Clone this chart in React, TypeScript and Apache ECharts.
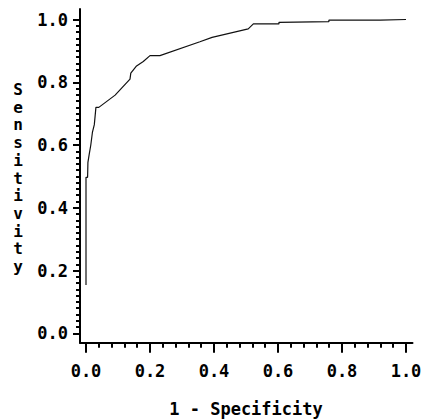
import React, { useEffect, useRef } from "react";
import * as echarts from "echarts";

// ROC curve points: [1 - specificity, sensitivity]
const fpr = [0, 0, 0.005, 0.006, 0.01, 0.015, 0.02, 0.026, 0.031, 0.04, 0.091, 0.1375, 0.14, 0.158, 0.179, 0.2, 0.231, 0.356, 0.394, 0.507, 0.523, 0.603, 0.603, 0.759, 0.759, 0.919, 0.919, 1.0];
const tpr = [0.154, 0.497, 0.497, 0.545, 0.57, 0.6, 0.64, 0.665, 0.72, 0.72, 0.759, 0.81, 0.829, 0.852, 0.866, 0.885, 0.885, 0.929, 0.943, 0.97, 0.986, 0.986, 0.991, 0.993, 0.998, 0.998, 1.0, 1.0];

const xMajorTicks = [0, 0.2, 0.4, 0.6, 0.8, 1.0];
const xMinorTicks = [0.04, 0.08, 0.12, 0.16, 0.24, 0.28, 0.32, 0.36, 0.44, 0.48, 0.52, 0.56, 0.64, 0.68, 0.72, 0.76, 0.84, 0.88, 0.92, 0.96];
const yMajorTicks = [0, 0.2, 0.4, 0.6, 0.8, 1.0];
const yMinorTicks = [
  0.02, 0.04, 0.06, 0.08, 0.1, 0.12, 0.14, 0.16, 0.18,
  0.22, 0.24, 0.26, 0.28, 0.3, 0.32, 0.34, 0.36, 0.38,
  0.42, 0.44, 0.46, 0.48, 0.5, 0.52, 0.54, 0.56, 0.58,
  0.62, 0.64, 0.66, 0.68, 0.7, 0.72, 0.74, 0.76, 0.78,
  0.82, 0.84, 0.86, 0.88, 0.9, 0.92, 0.94, 0.96, 0.98,
];

const xTitle = "1 - Specificity";
const yTitle = "Sensitivity";

const X_MIN = -0.01875;
const X_MAX = 1.0203;
const Y_MIN = -0.03;
const Y_MAX = 1.0335;

const FONT = "'DejaVu Sans Mono', monospace";

export default function App() {
  const ref = useRef<HTMLDivElement>(null);
  useEffect(() => {
    if (!ref.current) return;
    const chart = echarts.init(ref.current, undefined, { renderer: "svg" });
    const labelStyle = {
      fontFamily: FONT,
      fontWeight: "bold" as const,
      fontSize: 17,
      color: "#000",
    };
    const baseX = {
      type: "value" as const,
      min: X_MIN,
      max: X_MAX,
      position: "bottom" as const,
      splitLine: { show: false },
    };
    const baseY = {
      type: "value" as const,
      min: Y_MIN,
      max: Y_MAX,
      position: "left" as const,
      splitLine: { show: false },
    };
    const letters = yTitle.split("");
    const step = 17.7;
    const firstCenter = 178 - ((letters.length - 1) * step) / 2;
    const yTitleTexts = letters.map((ch, i) => ({
      type: "text",
      x: 18,
      y: firstCenter + i * step,
      style: {
        text: ch,
        fontFamily: FONT,
        fontWeight: "bold",
        fontSize: 16,
        fill: "#000",
        textAlign: "center",
        textVerticalAlign: "middle",
      },
    }));
    chart.setOption({
      animation: false,
      backgroundColor: "#fff",
      grid: {
        left: 80,
        top: 9,
        right: 10.5,
        bottom: 77.3,
        containLabel: false,
        outerBoundsMode: "none",
      },
      xAxis: [
        {
          ...baseX,
          axisLine: { show: true, onZero: false, lineStyle: { color: "#000", width: 2 } },
          axisTick: { show: true, customValues: xMajorTicks, length: 10, lineStyle: { color: "#000", width: 2 } },
          axisLabel: {
            show: true,
            customValues: xMajorTicks,
            formatter: (v: number) => v.toFixed(1),
            margin: 20,
            ...labelStyle,
          },
        },
        {
          ...baseX,
          axisLine: { show: false, onZero: false },
          axisTick: { show: true, customValues: xMinorTicks, length: 5, lineStyle: { color: "#000", width: 2 } },
          axisLabel: { show: false },
        },
      ],
      yAxis: [
        {
          ...baseY,
          axisLine: { show: true, onZero: false, lineStyle: { color: "#000", width: 2 } },
          axisTick: { show: true, customValues: yMajorTicks, length: 7, lineStyle: { color: "#000", width: 2 } },
          axisLabel: {
            show: true,
            customValues: yMajorTicks,
            formatter: (v: number) => v.toFixed(1),
            margin: 12,
            ...labelStyle,
          },
        },
        {
          ...baseY,
          axisLine: { show: false, onZero: false },
          axisTick: { show: true, customValues: yMinorTicks, length: 4, lineStyle: { color: "#000", width: 2 } },
          axisLabel: { show: false },
        },
      ],
      graphic: [
        {
          type: "text",
          x: 246,
          y: 409,
          style: {
            text: xTitle,
            fontFamily: FONT,
            fontWeight: "bold",
            fontSize: 17,
            fill: "#000",
            textAlign: "center",
            textVerticalAlign: "middle",
          },
        },
        ...yTitleTexts,
      ],
      series: [
        {
          type: "line",
          xAxisIndex: 0,
          yAxisIndex: 0,
          showSymbol: false,
          symbol: "none",
          lineStyle: { color: "#111", width: 1.2 },
          data: fpr.map((x, i) => [x, tpr[i]]),
        },
      ],
    });
    return () => chart.dispose();
  }, []);
  return (
    <div
      ref={ref}
      style={{ position: "fixed", left: 0, top: 0, width: 423, height: 420 }}
    />
  );
}
